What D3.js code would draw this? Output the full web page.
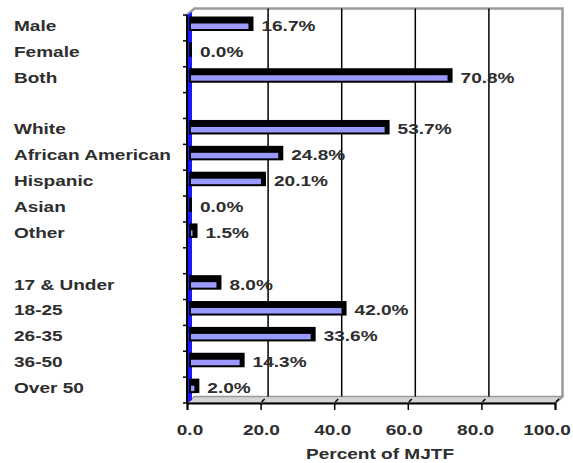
<!DOCTYPE html>
<html>
<head>
<meta charset="utf-8">
<script src="https://cdn.jsdelivr.net/npm/d3@7"></script>
<style>
  html, body { margin: 0; padding: 0; background: #fff; }
  svg { display: block; }
  text { font-family: "Liberation Sans", Arial, sans-serif; font-weight: bold; font-size: 15px; fill: #2e2e2e; }
</style>
</head>
<body>
<svg id="chart" width="573" height="463"></svg>
<script>
const categories = ["Male", "Female", "Both", "", "White", "African American", "Hispanic", "Asian", "Other", "", "17 & Under", "18-25", "26-35", "36-50", "Over 50"];
const values = [16.7, 0.0, 70.8, null, 53.7, 24.8, 20.1, 0.0, 1.5, null, 8.0, 42.0, 33.6, 14.3, 2.0];
const xTicks = [0, 20, 40, 60, 80, 100];
const axisTitle = "Percent of MJTF";

const svg = d3.select("#chart");
const SX = 1.27;           // horizontal stretch of the text in the reference
const DX = 7.5, DY = -6.5; // 3D depth offset of the back plane

const x = d3.scaleLinear().domain([0, 100]).range([187, 555]);
const xLabel = d3.scaleLinear().domain([0, 100]).range([190, 547]);
const y = d3.scaleBand().domain(d3.range(categories.length)).range([15, 403]).padding(0);

const x0 = x(0), xMax = x(100), yTop = y.range()[0], yBot = y.range()[1];

// floor
svg.append("polygon")
  .attr("points", [[x0, yBot], [x0 + DX, yBot + DY], [xMax + DX, yBot + DY], [xMax, yBot]].map(p => p.join(",")).join(" "))
  .attr("fill", "#d4d4d4").attr("stroke", "#9a9a9a").attr("stroke-width", 1.5);

// back border (top and right)
svg.append("path")
  .attr("d", `M${x0},${yTop} L${x0 + DX},${yTop + DY} L${xMax + DX},${yTop + DY} L${xMax + DX},${yBot + DY} L${xMax},${yBot}`)
  .attr("fill", "none").attr("stroke", "#9a9a9a").attr("stroke-width", 2.5);

// gridlines on back wall
svg.append("g").selectAll("line")
  .data(xTicks.filter(t => t > 0 && t < 100))
  .join("line")
  .attr("x1", d => x(d) + DX).attr("x2", d => x(d) + DX)
  .attr("y1", yTop + DY).attr("y2", yBot + DY)
  .attr("stroke", "#000").attr("stroke-width", 1.5);

// left wall (blue)
svg.append("polygon")
  .attr("points", [[x0, yTop], [x0 + 5, yTop - 3], [x0 + 5, yBot - 3], [x0, yBot]].map(p => p.join(",")).join(" "))
  .attr("fill", "#1a1aff");

// bars
const bars = svg.append("g");
categories.forEach((c, i) => {
  const v = values[i];
  if (v === null) return;
  const t = y(i);
  const xv = x(v);
  bars.append("rect")
    .attr("x", x0 + 2).attr("y", t + 1.5)
    .attr("width", Math.max(3, xv + 5 - (x0 + 2))).attr("height", 14.5)
    .attr("fill", "#000");
  if (xv - (x0 + 4) > 0.5) {
    bars.append("rect")
      .attr("x", x0 + 4).attr("y", t + 8.5)
      .attr("width", xv - (x0 + 4)).attr("height", 5.5)
      .attr("fill", "#9999ff");
  }
});

// left axis line and ticks
svg.append("line")
  .attr("x1", x0).attr("x2", x0).attr("y1", yTop).attr("y2", yBot)
  .attr("stroke", "#000").attr("stroke-width", 2);
const boundaries = d3.range(categories.length + 1).map(i => i < categories.length ? y(i) : yBot);
svg.append("g").selectAll("line").data(boundaries).join("line")
  .attr("x1", x0 - 4).attr("x2", x0).attr("y1", d => d).attr("y2", d => d)
  .attr("stroke", "#000").attr("stroke-width", 1.5);

// bottom axis
const xAxis = d3.axisBottom(x).tickValues(xTicks).tickSize(7).tickFormat(d => d3.format(".1f")(d));
const gx = svg.append("g").attr("transform", `translate(0,${yBot})`).call(xAxis);
gx.select(".domain").attr("stroke", "#000").attr("stroke-width", 2);
gx.selectAll(".tick line").attr("stroke", "#000").attr("stroke-width", 1.5);
gx.selectAll(".tick text").remove();
// depth marks at ticks
svg.append("g").selectAll("line").data(xTicks.filter(t => t > 0)).join("line")
  .attr("x1", d => x(d) + 1).attr("y1", yBot - 1).attr("x2", d => x(d) + 4).attr("y2", yBot - 4)
  .attr("stroke", "#000").attr("stroke-width", 1.5);
// tick labels
svg.append("g").selectAll("text").data(xTicks).join("text")
  .attr("transform", d => `translate(${xLabel(d)},435) scale(${SX},1)`)
  .attr("text-anchor", "middle")
  .text(d => d3.format(".1f")(d));

// axis title
svg.append("text")
  .attr("transform", `translate(380,459) scale(${SX},1)`)
  .attr("text-anchor", "middle")
  .text(axisTitle);

// category labels
svg.append("g").selectAll("text").data(categories).join("text")
  .attr("transform", (d, i) => `translate(14,${y(i) + y.bandwidth() / 2 + 3}) scale(${SX},1)`)
  .text(d => d);

// value labels
svg.append("g").selectAll("text").data(values.map((v, i) => ({ v, i })).filter(d => d.v !== null)).join("text")
  .attr("transform", d => `translate(${x(d.v) + 13},${y(d.i) + y.bandwidth() / 2 + 3}) scale(${SX},1)`)
  .text(d => d3.format(".1f")(d.v) + "%");
</script>
</body>
</html>
